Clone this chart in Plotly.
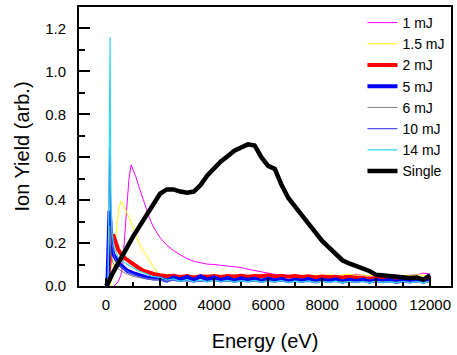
import plotly.graph_objects as go

# ---- tail energy grid (eV) shared by all pulse traces ----
tail_x = [2000, 2250, 2500, 2750, 3000, 3250, 3500, 3750, 4000, 4250, 4500, 4750,
          5000, 5250, 5500, 5750, 6000, 6250, 6500, 6750, 7000, 7250, 7500, 7750,
          8000, 8250, 8500, 8750, 9000, 9250, 9500, 9750, 10000, 10250, 10500, 10750,
          11000, 11250, 11500, 11750, 12000]

x_tickvals = [0, 2000, 4000, 6000, 8000, 10000, 12000]
x_ticktext = ["0", "2000", "4000", "6000", "8000", "10000", "12000"]
y_tickvals = [0, 0.2, 0.4, 0.6, 0.8, 1.0, 1.2]

# ---- 1 mJ ----
mj1_x_head = [300, 450, 550, 620, 700, 780, 850, 930, 1000, 1100, 1200, 1300, 1450, 1600, 1750, 1900]
mj1_y_head = [0.0, 0.02, 0.05, 0.10, 0.25, 0.40, 0.50, 0.565, 0.545, 0.51, 0.47, 0.43, 0.38, 0.32, 0.275, 0.245]
mj1_y_tail = [0.225, 0.19, 0.165, 0.145, 0.128, 0.115, 0.108, 0.102, 0.100, 0.097, 0.094, 0.090,
              0.086, 0.078, 0.072, 0.064, 0.058, 0.054, 0.052, 0.049, 0.050, 0.047, 0.048, 0.046,
              0.047, 0.045, 0.048, 0.046, 0.050, 0.055, 0.050, 0.047, 0.050, 0.046, 0.045, 0.050,
              0.048, 0.050, 0.052, 0.060, 0.055]

# ---- 1.5 mJ ----
mj15_x_head = [150, 250, 330, 400, 480, 560, 650, 750, 850, 1000, 1150, 1300, 1450, 1600, 1750, 1900]
mj15_y_head = [0.0, 0.05, 0.17, 0.28, 0.36, 0.395, 0.375, 0.35, 0.32, 0.27, 0.22, 0.18, 0.15, 0.115, 0.085, 0.055]
mj15_y_tail = [0.040, 0.032, 0.035, 0.030, 0.034, 0.030, 0.036, 0.032, 0.035, 0.030, 0.036, 0.033,
               0.038, 0.035, 0.040, 0.036, 0.042, 0.045, 0.050, 0.045, 0.048, 0.050, 0.046, 0.050,
               0.047, 0.052, 0.048, 0.050, 0.055, 0.050, 0.052, 0.048, 0.050, 0.045, 0.050, 0.047,
               0.050, 0.048, 0.052, 0.050, 0.045]

# ---- 2 mJ ----
mj2_x_head = [50, 120, 200, 260, 350, 450, 550, 650, 800, 1000, 1200, 1400, 1600, 1800]
mj2_y_head = [0.0, 0.10, 0.20, 0.24, 0.21, 0.17, 0.15, 0.135, 0.12, 0.10, 0.085, 0.07, 0.06, 0.055]
mj2_y_tail = [0.050, 0.045, 0.048, 0.042, 0.046, 0.040, 0.045, 0.043, 0.047, 0.042, 0.046, 0.044,
              0.048, 0.043, 0.047, 0.045, 0.050, 0.044, 0.047, 0.043, 0.046, 0.042, 0.045, 0.040,
              0.044, 0.041, 0.043, 0.039, 0.042, 0.038, 0.036, 0.034, 0.037, 0.033, 0.035, 0.032,
              0.036, 0.031, 0.035, 0.030, 0.040]

# ---- 5 mJ ----
mj5_x_head = [50, 100, 130, 160, 200, 260, 330, 420, 520, 650, 800, 1000, 1250, 1500, 1750]
mj5_y_head = [0.0, 0.20, 0.35, 0.30, 0.20, 0.15, 0.13, 0.115, 0.10, 0.085, 0.07, 0.06, 0.05, 0.04, 0.035]
mj5_y_tail = [0.035, 0.025, 0.040, 0.030, 0.042, 0.028, 0.045, 0.030, 0.040, 0.027, 0.038, 0.025,
              0.036, 0.028, 0.035, 0.024, 0.034, 0.026, 0.033, 0.022, 0.030, 0.025, 0.032, 0.021,
              0.030, 0.024, 0.031, 0.020, 0.029, 0.023, 0.030, 0.020, 0.028, 0.022, 0.029, 0.019,
              0.027, 0.021, 0.028, 0.020, 0.030]

# ---- 6 mJ ----
mj6_x_head = [60, 110, 140, 180, 250, 350, 500, 700, 1000, 1400, 1800]
mj6_y_head = [0.0, 0.15, 0.28, 0.15, 0.11, 0.09, 0.075, 0.06, 0.045, 0.035, 0.03]
mj6_y_tail = [0.028, 0.024, 0.027, 0.022, 0.026, 0.021, 0.025, 0.022, 0.026, 0.020, 0.024, 0.021,
              0.025, 0.020, 0.024, 0.021, 0.023, 0.020, 0.024, 0.019, 0.023, 0.020, 0.022, 0.019,
              0.023, 0.018, 0.022, 0.019, 0.021, 0.018, 0.022, 0.018, 0.021, 0.019, 0.020, 0.018,
              0.021, 0.017, 0.020, 0.018, 0.020]

# ---- 10 mJ ----
mj10_x_head = [60, 110, 140, 170, 220, 300, 400, 550, 700, 900, 1200, 1500, 1800]
mj10_y_head = [0.0, 0.40, 0.645, 0.35, 0.20, 0.14, 0.11, 0.09, 0.075, 0.06, 0.045, 0.035, 0.03]
mj10_y_tail = [0.030, 0.022, 0.027, 0.020, 0.025, 0.018, 0.024, 0.020, 0.026, 0.019, 0.024, 0.018,
               0.023, 0.019, 0.024, 0.017, 0.022, 0.019, 0.023, 0.017, 0.022, 0.018, 0.021, 0.016,
               0.022, 0.018, 0.021, 0.016, 0.020, 0.017, 0.021, 0.016, 0.020, 0.017, 0.019, 0.015,
               0.020, 0.016, 0.019, 0.016, 0.020]

# ---- 14 mJ ----
mj14_x_head = [80, 120, 150, 180, 220, 300, 440, 600, 800, 1000, 1200, 1435, 1700]
mj14_y_head = [0.0, 0.50, 1.16, 0.45, 0.25, 0.18, 0.135, 0.115, 0.10, 0.085, 0.07, 0.06, 0.045]
mj14_y_tail = [0.040, 0.028, 0.033, 0.022, 0.030, 0.020, 0.028, 0.019, 0.027, 0.021, 0.026, 0.018,
               0.025, 0.020, 0.026, 0.017, 0.024, 0.019, 0.025, 0.016, 0.023, 0.018, 0.024, 0.016,
               0.022, 0.017, 0.023, 0.015, 0.022, 0.017, 0.021, 0.015, 0.022, 0.016, 0.020, 0.015,
               0.021, 0.016, 0.020, 0.015, 0.022]

# ---- Single ----
single_x = [0, 100, 250, 500, 750, 1000, 1250, 1500, 1750, 2000, 2250, 2500, 2750, 3000, 3250,
            3500, 3750, 4000, 4250, 4500, 4750, 5000, 5250, 5500, 5750, 6000, 6250, 6500, 6750,
            7000, 7250, 7500, 7750, 8000, 8250, 8500, 8750, 9000, 9250, 9500, 9750, 10000, 10250,
            10500, 10750, 11000, 11250, 11500, 11750, 12000]
single_y = [0.0, 0.02, 0.06, 0.12, 0.18, 0.23, 0.28, 0.33, 0.38, 0.43, 0.45, 0.45, 0.44, 0.435, 0.44,
            0.47, 0.515, 0.55, 0.58, 0.605, 0.63, 0.645, 0.66, 0.655, 0.60, 0.56, 0.545, 0.47, 0.41,
            0.37, 0.33, 0.29, 0.245, 0.21, 0.18, 0.15, 0.12, 0.105, 0.095, 0.082, 0.07, 0.052, 0.048,
            0.045, 0.042, 0.040, 0.037, 0.040, 0.030, 0.050]

series = [
    ("1 mJ", mj1_x_head, mj1_y_head, mj1_y_tail, "#ff00ff", 1),
    ("1.5 mJ", mj15_x_head, mj15_y_head, mj15_y_tail, "#ffff00", 1),
    ("2 mJ", mj2_x_head, mj2_y_head, mj2_y_tail, "#ff0000", 4),
    ("5 mJ", mj5_x_head, mj5_y_head, mj5_y_tail, "#0000ff", 4),
    ("6 mJ", mj6_x_head, mj6_y_head, mj6_y_tail, "#808080", 1),
    ("10 mJ", mj10_x_head, mj10_y_head, mj10_y_tail, "#5050f0", 1.2),
    ("14 mJ", mj14_x_head, mj14_y_head, mj14_y_tail, "#30d8f0", 1.2),
]

fig = go.Figure()
for name, xh, yh, yt, color, w in series:
    fig.add_trace(go.Scatter(x=xh + tail_x, y=yh + yt, mode="lines", name=name,
                             line=dict(color=color, width=w)))
fig.add_trace(go.Scatter(x=single_x, y=single_y, mode="lines", name="Single",
                         line=dict(color="black", width=4.5)))

font = "Liberation Sans, Arial, sans-serif"
fig.update_layout(
    width=457, height=355,
    margin=dict(l=79, r=4, t=7, b=69),
    paper_bgcolor="white", plot_bgcolor="white",
    font=dict(family=font, size=15, color="black"),
    showlegend=True,
    legend=dict(x=0.762, y=1.0, xanchor="left", yanchor="top",
                bgcolor="rgba(0,0,0,0)", font=dict(size=14), tracegroupgap=0),
    xaxis=dict(range=[-1000, 12770], tickvals=x_tickvals, ticktext=x_ticktext,
               ticks="inside", ticklen=8, tickwidth=2, tickcolor="black",
               minor=dict(dtick=1000, ticklen=4, ticks="inside", tickcolor="black", tickwidth=2),
               showline=True, linecolor="black", linewidth=2, mirror=True,
               showgrid=False, zeroline=False, ticklabelstandoff=4,
               title=dict(text="Energy (eV)", font=dict(size=20), standoff=22)),
    yaxis=dict(range=[0, 1.3], tickvals=y_tickvals, tickformat=".1f",
               ticks="inside", ticklen=11, tickwidth=2, tickcolor="black",
               minor=dict(dtick=0.1, ticklen=6, ticks="inside", tickcolor="black", tickwidth=2),
               showline=True, linecolor="black", linewidth=2, mirror=True,
               showgrid=False, zeroline=False, ticklabelstandoff=8,
               title=dict(text="Ion Yield (arb.)", font=dict(size=20), standoff=10)),
)

fig.write_html("out.html")
